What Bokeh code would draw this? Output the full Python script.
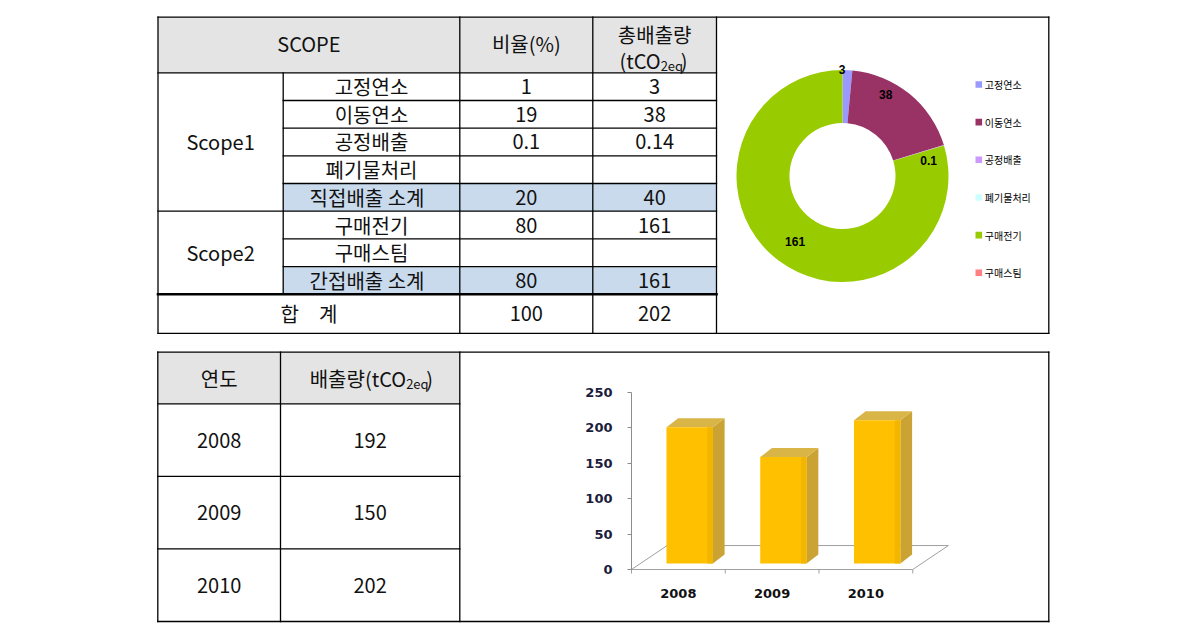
import math
from bokeh.plotting import figure
from bokeh.models import Range1d, FixedTicker, CustomJSTickFormatter, LinearAxis
from bokeh.core.properties import value
from bokeh.embed import file_html
from bokeh.resources import INLINE

# ---------------- data ----------------
header_scope = "SCOPE"
header_ratio = "비율(%)"
header_total = "총배출량"
unit_main = "(tCO"
unit_sub = "2eq"
unit_close = ")"

scope_groups = ["Scope1", "Scope2"]
group_sizes = [5, 3]
scope_items = ["고정연소", "이동연소", "공정배출", "폐기물처리", "직접배출   소계",
               "구매전기", "구매스팀", "간접배출   소계"]
ratio_pct = ["1", "19", "0.1", "", "20", "80", "", "80"]
total_emission = ["3", "38", "0.14", "", "40", "161", "", "161"]
is_subtotal = [False, False, False, False, True, False, False, True]
total_label = "합\u3000계"
total_ratio = "100"
total_value = "202"

donut_labels = ["고정연소", "이동연소", "공정배출", "폐기물처리", "구매전기", "구매스팀"]
donut_values = [3, 38, 0.14, 0, 161, 0]
donut_colors = ["#9999FF", "#993366", "#CC99FF", "#CCFFFF", "#99CC00", "#FF8080"]

year_header = "연도"
emission_header = "배출량"
years = ["2008", "2009", "2010"]
year_emissions = [192, 150, 202]
y_ticks = [0, 50, 100, 150, 200, 250]

# ---------------- style / geometry ----------------
W, H = 1180, 625
KR = "Noto Sans CJK KR"
TXT = "#111111"
HDR_FILL = "#E4E4E4"
SUB_FILL = "#C9DAEC"

TOP_COLS = [157.5, 282.7, 459.3, 592.3, 716.0]
TOP_Y0, TOP_HDR, TOP_BODY_END, TOP_Y1 = 16.6, 72.3, 293.7, 332.8
BOX_RIGHT = 1048.3
BOT_COLS = [157.3, 280.0, 459.3]
BOT_Y0, BOT_HDR, BOT_Y1 = 351.7, 403.3, 621.0

n_rows = len(scope_items)
row_h = (TOP_BODY_END - TOP_HDR) / n_rows
row_top = [TOP_HDR + i * row_h for i in range(n_rows)]
n_bot = len(years)
bot_h = (BOT_Y1 - BOT_HDR) / n_bot

# bar-chart scale anchors (pixel of x=0 / y=0, pixels per unit)
BX0, PXX = 631.0, 93.75
BY0, PXY = 569.0, 0.709

p = figure(width=W, height=H, x_range=Range1d(0, W), y_range=Range1d(-H, 0),
           output_backend="svg", toolbar_location=None,
           x_axis_location=None, y_axis_location=None, min_border=0,
           outline_line_color=None, background_fill_color="white",
           border_fill_color="white")
p.grid.visible = False
p.extra_x_ranges = {"bx": Range1d(-BX0 / PXX, (W - BX0) / PXX)}
p.extra_y_ranges = {"by": Range1d(-(H - BY0) / PXY, BY0 / PXY)}


def cx(cols, i, j=None):
    j = i + 1 if j is None else j
    return (cols[i] + cols[j]) / 2


# ---------- table fills ----------
fills = []
fills.append((TOP_COLS[0], TOP_COLS[-1], TOP_Y0, TOP_HDR, HDR_FILL))
for i, s in enumerate(is_subtotal):
    if s:
        fills.append((TOP_COLS[1], TOP_COLS[-1], row_top[i], row_top[i] + row_h, SUB_FILL))
fills.append((BOT_COLS[0], BOT_COLS[-1], BOT_Y0, BOT_HDR, HDR_FILL))
p.quad(left=[f[0] for f in fills], right=[f[1] for f in fills],
       top=[-f[2] for f in fills], bottom=[-f[3] for f in fills],
       fill_color=[f[4] for f in fills], line_color=None)

# ---------- table lines ----------
thin = []
thin.append((TOP_COLS[0], TOP_Y0, BOX_RIGHT, TOP_Y0))
thin.append((TOP_COLS[0], TOP_Y1, BOX_RIGHT, TOP_Y1))
for xv in [TOP_COLS[0], TOP_COLS[2], TOP_COLS[3], TOP_COLS[4], BOX_RIGHT]:
    thin.append((xv, TOP_Y0, xv, TOP_Y1))
thin.append((TOP_COLS[1], TOP_HDR, TOP_COLS[1], TOP_BODY_END))
thin.append((TOP_COLS[0], TOP_HDR, TOP_COLS[-1], TOP_HDR))
group_breaks = [sum(group_sizes[:k + 1]) for k in range(len(group_sizes) - 1)]
for i in range(1, n_rows):
    x_start = TOP_COLS[0] if i in group_breaks else TOP_COLS[1]
    thin.append((x_start, row_top[i], TOP_COLS[-1], row_top[i]))
thin.append((BOT_COLS[0], BOT_Y0, BOX_RIGHT, BOT_Y0))
thin.append((BOT_COLS[0], BOT_Y1, BOX_RIGHT, BOT_Y1))
for xv in BOT_COLS + [BOX_RIGHT]:
    thin.append((xv, BOT_Y0, xv, BOT_Y1))
for k in range(n_bot):
    yv = BOT_HDR + k * bot_h
    thin.append((BOT_COLS[0], yv, BOT_COLS[-1], yv))
thick = [(TOP_COLS[0], TOP_BODY_END, TOP_COLS[-1], TOP_BODY_END)]
p.segment(x0=[s[0] for s in thin], y0=[-s[1] for s in thin],
          x1=[s[2] for s in thin], y1=[-s[3] for s in thin],
          line_color="black", line_width=1.3, line_cap="square")
p.segment(x0=[s[0] for s in thick], y0=[-s[1] for s in thick],
          x1=[s[2] for s in thick], y1=[-s[3] for s in thick],
          line_color="black", line_width=2.6, line_cap="square")

# ---------- texts ----------
texts = []  # (x, y, text, font, size, style, align, color)


def T(x, y, t, size="20px", align="center", font=KR, style="normal", color=TXT):
    if t != "":
        texts.append((x, y, t, font, size, style, align, color))


def unit_text(cxv, cyv, prefix, main_w, sub_w=20.0, close_w=6.0):
    total = main_w + sub_w + close_w
    split = cxv - total / 2 + main_w
    T(split, cyv, prefix + unit_main, align="right")
    T(split, cyv + 5, unit_sub, size="13px", align="left")
    T(split + sub_w, cyv, unit_close, align="left")


T(cx(TOP_COLS, 0, 2), (TOP_Y0 + TOP_HDR) / 2 - 1, header_scope)
T(cx(TOP_COLS, 2), (TOP_Y0 + TOP_HDR) / 2 - 1, header_ratio)
T(cx(TOP_COLS, 3), TOP_Y0 + 17.5, header_total)
unit_text(cx(TOP_COLS, 3), TOP_Y0 + 43.5, "", 38.0)
start = 0
for g, cnt in zip(scope_groups, group_sizes):
    T(cx(TOP_COLS, 0), row_top[start] + cnt * row_h / 2, g)
    start += cnt
for i in range(n_rows):
    yc = row_top[i] + row_h / 2
    T(cx(TOP_COLS, 1), yc, scope_items[i])
    T(cx(TOP_COLS, 2), yc, ratio_pct[i])
    T(cx(TOP_COLS, 3), yc, total_emission[i])
yc = (TOP_BODY_END + TOP_Y1) / 2
T(cx(TOP_COLS, 0, 2), yc, total_label)
T(cx(TOP_COLS, 2), yc, total_ratio)
T(cx(TOP_COLS, 3), yc, total_value)
T(cx(BOT_COLS, 0), (BOT_Y0 + BOT_HDR) / 2, year_header)
unit_text(cx(BOT_COLS, 1), (BOT_Y0 + BOT_HDR) / 2, emission_header, 98.0)
for k in range(n_bot):
    yc = BOT_HDR + (k + 0.5) * bot_h
    T(cx(BOT_COLS, 0), yc, years[k])
    T(cx(BOT_COLS, 1), yc, str(year_emissions[k]))

# ---------- donut ----------
DCX, DCY, R_OUT, R_IN = 842.0, 175.5, 106.0, 53.0
lab_dx = [-4, -7, 10, 0, 0, 0]
lab_dy = [-27, -20, 8, 0, 2, 0]
tot = sum(donut_values)
w_start, w_end, w_col = [], [], []
cum = 0.0
for v, c, dx, dy in zip(donut_values, donut_colors, lab_dx, lab_dy):
    a0 = math.pi / 2 - 2 * math.pi * cum / tot
    a1 = math.pi / 2 - 2 * math.pi * (cum + v) / tot
    if v > 0:
        w_start.append(a1)
        w_end.append(a0)
        w_col.append(c)
        am = (a0 + a1) / 2
        rm = (R_OUT + R_IN) / 2
        T(DCX + rm * math.cos(am) + dx, DCY - rm * math.sin(am) + dy,
          ("%.1f" % v).rstrip("0").rstrip("."), size="12px",
          font="Liberation Sans", style="bold", color="black")
    cum += v
p.annular_wedge(x=[DCX] * len(w_col), y=[-DCY] * len(w_col), inner_radius=R_IN,
                outer_radius=R_OUT, start_angle=w_start, end_angle=w_end,
                fill_color=w_col, line_color=None)

LEG_X, LEG_Y0, LEG_DY, LEG_SQ = 978.3, 84.0, 37.65, 6.6
nl = len(donut_labels)
p.quad(left=[LEG_X - LEG_SQ / 2] * nl, right=[LEG_X + LEG_SQ / 2] * nl,
       top=[-(LEG_Y0 + k * LEG_DY) + LEG_SQ / 2 for k in range(nl)],
       bottom=[-(LEG_Y0 + k * LEG_DY) - LEG_SQ / 2 for k in range(nl)],
       fill_color=donut_colors, line_color=None)
for k, lab in enumerate(donut_labels):
    T(LEG_X + 6.0, LEG_Y0 + k * LEG_DY, lab, size="10px", align="left", color="black")

# ---------- bar chart (own scales via extra ranges) ----------
n = len(years)
R = dict(x_range_name="bx", y_range_name="by")
FDX, FDY = 0.38, 33.8
FLOOR = "#A0A0A0"
p.segment(x0=[0, 0, FDX, n], y0=[0, 0, FDY, 0], x1=[n, FDX, n + FDX, n + FDX],
          y1=[0, FDY, FDY, FDY], line_color=FLOOR, line_width=1, **R)
p.segment(x0=list(range(n + 1)), y0=[0] * (n + 1), x1=list(range(n + 1)),
          y1=[-4 / PXY] * (n + 1), line_color=FLOOR, line_width=1, **R)

BASE, BL, BW, DX, DY = 8.5, 0.373, 0.495, 0.125, 12.7
lefts = [i + BL for i in range(n)]
rights = [i + BL + BW for i in range(n)]
tops = [BASE + v for v in year_emissions]
p.patches(xs=[[r, r + DX, r + DX, r] for r in rights],
          ys=[[BASE, BASE + DY, t + DY, t] for t in tops],
          fill_color="#CBA334", line_color=None, **R)
p.patches(xs=[[l, l + DX, r + DX, r] for l, r in zip(lefts, rights)],
          ys=[[t, t + DY, t + DY, t] for t in tops],
          fill_color="#D9B548", line_color=None, **R)
p.quad(left=lefts, right=rights, bottom=[BASE] * n, top=tops,
       fill_color="#FFC000", line_color=None, **R)
p.quad(left=[r - 0.06 for r in rights], right=rights, bottom=[BASE] * n, top=tops,
       fill_color="#F2B600", line_color=None, **R)

yax = LinearAxis(x_range_name="bx", y_range_name="by", fixed_location=0,
                 ticker=FixedTicker(ticks=y_ticks), bounds=(y_ticks[0], y_ticks[-1]),
                 axis_line_color="#8C8C8C", major_tick_line_color="#8C8C8C",
                 major_tick_out=4, major_tick_in=0, minor_tick_line_color=None,
                 major_label_standoff=15, major_label_text_font="DejaVu Sans",
                 major_label_text_font_style="bold", major_label_text_font_size="13px",
                 major_label_text_color="#1C1C3C")
p.add_layout(yax, "left")
xax = LinearAxis(x_range_name="bx", y_range_name="by", fixed_location=0,
                 ticker=FixedTicker(ticks=[i + 0.5 for i in range(n)]),
                 formatter=CustomJSTickFormatter(args=dict(labels=years),
                                                 code="return labels[Math.floor(tick)] || '';"),
                 axis_line_color=None, major_tick_line_color=None,
                 minor_tick_line_color=None, major_label_standoff=13,
                 major_label_text_font="DejaVu Sans", major_label_text_font_style="bold",
                 major_label_text_font_size="13px", major_label_text_color="#111111")
p.add_layout(xax, "below")

# ---------- text renderers ----------
groups = {}
for (x, y, t, font, size, style, align, color) in texts:
    groups.setdefault((font, size, style, align, color), []).append((x, y, t))
for (font, size, style, align, color), items in groups.items():
    p.text(x=[i[0] for i in items], y=[-i[1] for i in items], text=[i[2] for i in items],
           text_font=value(font), text_font_size=value(size), text_font_style=style,
           text_align=align, text_baseline="middle", text_color=color)

open("out.html", "w").write(file_html(p, INLINE))
